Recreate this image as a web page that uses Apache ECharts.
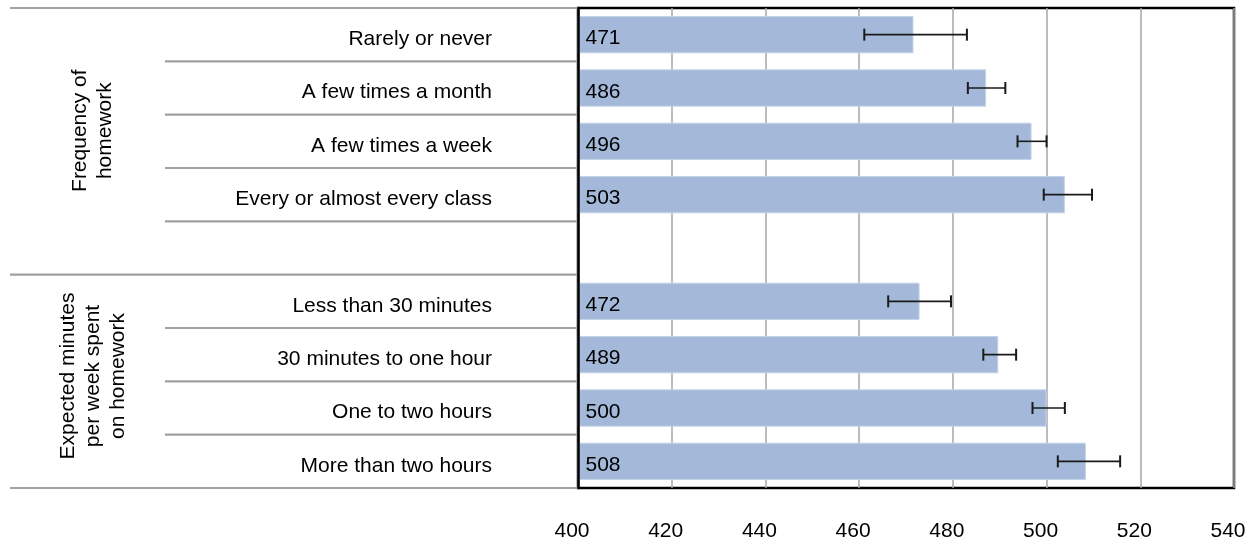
<!DOCTYPE html>
<html>
<head>
<meta charset="utf-8">
<script src="https://cdn.jsdelivr.net/npm/echarts@6/dist/echarts.min.js"></script>
<style>
  html, body { margin: 0; padding: 0; background: #fff; }
  #chart { width: 1254px; height: 542px; }
</style>
</head>
<body>
<div id="chart"></div>
<script>
// ---- data ----
const categories = [
  "Rarely or never",
  "A few times a month",
  "A few times a week",
  "Every or almost every class",
  "",
  "Less than 30 minutes",
  "30 minutes to one hour",
  "One to two hours",
  "More than two hours"
];
const scores      = [471.6, 487.1, 496.8, 503.9, null, 472.9, 489.7, 500.0, 508.4];
const scoreLabels = ["471", "486", "496", "503", "", "472", "489", "500", "508"];
const errLow      = [461.1, 483.2, 493.8, 499.4, null, 466.2, 486.5, 497.0, 502.4];
const errHigh     = [483.0, 491.2, 500.0, 509.7, null, 479.6, 493.5, 503.9, 515.7];
const groupLabels = ["Frequency of\nhomework", "Expected minutes\nper week spent\non homework"];
const groupRows   = [[0, 3], [5, 8]];
const xMin = 400, xMax = 540, xStep = 20;

// ---- chart ----
const FONT = "'Liberation Sans', Arial, Helvetica, sans-serif";
const chart = echarts.init(document.getElementById('chart'), null, { renderer: 'canvas' });

const errData = categories.map((c, i) => [i, errLow[i], errHigh[i]]).filter(d => d[1] != null);

const option = {
  animation: false,
  backgroundColor: '#fff',
  grid: {
    left: 578, right: 20, top: 8, bottom: 54,
    show: true, borderColor: '#000', borderWidth: 2.5, backgroundColor: 'transparent'
  },
  xAxis: {
    type: 'value', min: xMin, max: xMax, interval: xStep,
    axisLine: { show: false }, axisTick: { show: false },
    splitLine: { show: true, lineStyle: { color: '#a6a6a6', width: 1.5 } },
    axisLabel: { fontSize: 21, color: '#000', fontFamily: FONT, margin: 33, padding: [0, 12, 0, 0] }
  },
  yAxis: {
    type: 'category', data: categories, inverse: true, z: 10,
    axisLine: { show: true, lineStyle: { color: '#000', width: 2.5 } },
    axisTick: { show: false },
    axisLabel: {
      margin: 86, align: 'right',
      formatter: v => v ? '{t|' + v + '}' : '',
      rich: { t: { fontSize: 21, color: '#000', fontFamily: FONT, padding: [9, 0, 0, 0] } }
    }
  },
  series: [
    {
      type: 'bar', data: scores, barCategoryGap: '30%',
      itemStyle: { color: '#a4b9d9', borderColor: '#c5d3e9', borderWidth: 1 },
      label: {
        show: true, position: 'insideLeft', distance: 8, offset: [0, 4],
        fontSize: 21, color: '#000', fontFamily: FONT,
        formatter: p => scoreLabels[p.dataIndex]
      },
      z: 2
    },
    {
      type: 'custom', z: 5,
      data: errData,
      renderItem: function (params, api) {
        const idx = api.value(0);
        const lo = api.coord([api.value(1), idx]);
        const hi = api.coord([api.value(2), idx]);
        const cap = 6;
        const st = { stroke: '#1a1a1a', lineWidth: 1.6 };
        const capSt = { stroke: '#1a1a1a', lineWidth: 2 };
        return {
          type: 'group',
          children: [
            { type: 'line', shape: { x1: lo[0], y1: lo[1], x2: hi[0], y2: hi[1] }, style: st },
            { type: 'line', shape: { x1: lo[0], y1: lo[1] - cap, x2: lo[0], y2: lo[1] + cap }, style: capSt },
            { type: 'line', shape: { x1: hi[0], y1: hi[1] - cap, x2: hi[0], y2: hi[1] + cap }, style: capSt }
          ]
        };
      }
    }
  ]
};
chart.setOption(option);

// ---- left-side row lines and group labels, positioned from the axis scale ----
const yAt = i => chart.convertToPixel({ yAxisIndex: 0 }, i);
const band = yAt(1) - yAt(0);
const boundary = k => yAt(0) - band / 2 + k * band;
const gridLeft = chart.convertToPixel({ xAxisIndex: 0 }, xMin);
const groupCenters = [1.8, 6.4];

const graphics = [];
const fullLines = new Set();
groupRows.forEach(g => fullLines.add(g[0]));
fullLines.add(groupRows[groupRows.length - 1][1] + 1);
const innerLines = new Set();
groupRows.forEach(g => { for (let k = g[0] + 1; k <= g[1] + 1; k++) if (!fullLines.has(k)) innerLines.add(k); });

const lineStyle = { stroke: '#a0a0a0', lineWidth: 2.2 };
fullLines.forEach(k => {
  const y = boundary(k);
  graphics.push({ type: 'line', shape: { x1: 10, y1: y, x2: gridLeft, y2: y }, style: lineStyle, z: 1 });
});
innerLines.forEach(k => {
  const y = boundary(k);
  graphics.push({ type: 'line', shape: { x1: 165, y1: y, x2: gridLeft, y2: y }, style: lineStyle, z: 1 });
});
groupLabels.forEach((t, g) => {
  const y = yAt(0) + groupCenters[g] * band;
  graphics.push({
    type: 'text', x: 93, y: y, rotation: Math.PI / 2, z: 1,
    style: {
      text: t, fontSize: 21, fontFamily: FONT, fill: '#000',
      textAlign: 'center', textVerticalAlign: 'middle', lineHeight: 25
    }
  });
});
chart.setOption({ graphic: graphics });
</script>
</body>
</html>
